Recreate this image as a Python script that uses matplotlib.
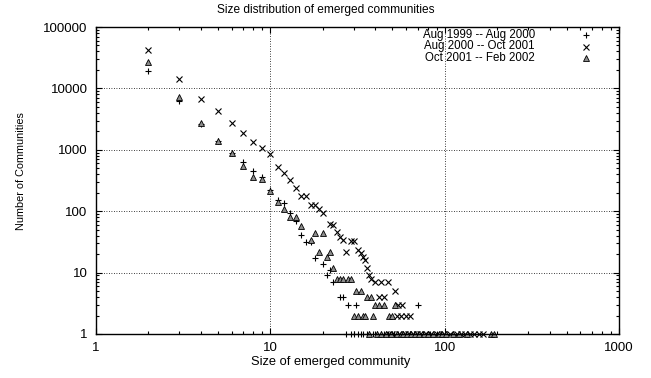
import matplotlib
matplotlib.use("Agg")
import matplotlib.pyplot as plt

plt.rcParams["font.family"] = ["Liberation Sans", "DejaVu Sans"]

# community sizes and how many communities of that size emerged, per period
sizes_99 = [2, 3, 4, 5, 6, 7, 8, 9, 10, 11, 12, 13, 14, 15, 16, 17, 18, 20, 21, 22, 23,
            25, 26, 28, 31, 70,
            27, 29, 30, 32, 33, 34, 36, 37, 39, 41, 43, 45, 47, 51, 54, 58, 63, 67, 75, 82, 95]
counts_99 = [19000, 6200, 2650, 1400, 900, 630, 450, 360, 225, 150, 137, 95, 70, 41, 32, 32, 17, 14, 9, 11, 7,
             4, 4, 3, 3, 3,
             1, 1, 1, 1, 1, 1, 1, 1, 1, 1, 1, 1, 1, 1, 1, 1, 1, 1, 1, 1, 1]

sizes_00 = [2, 3, 4, 5, 6, 7, 8, 9, 10, 11, 12, 13, 14, 15, 16, 17, 18, 19, 20,
            22, 23, 24, 25, 26, 27, 29, 30, 32, 33, 34, 35, 36, 37, 38,
            40, 43, 47, 42, 45, 52, 54, 57, 53, 56, 60, 63,
            48, 50, 55, 59, 62, 66, 69, 72, 77, 84, 90, 99, 108, 117, 124, 131, 139, 148, 157, 165]
counts_00 = [42000, 14000, 6700, 4300, 2700, 1850, 1350, 1050, 850, 530, 420, 320, 240, 180, 180, 126, 126, 109, 93,
             62, 60, 46, 38, 34, 22, 33, 33, 23, 21, 18, 16, 12, 9, 8,
             7, 7, 7, 4, 4, 5, 3, 3, 2, 2, 2, 2,
             1, 1, 1, 1, 1, 1, 1, 1, 1, 1, 1, 1, 1, 1, 1, 1, 1, 1, 1, 1]

sizes_01 = [2, 3, 4, 5, 6, 7, 8, 9, 10, 11, 12, 13, 14, 15,
            17, 18, 19, 20, 21, 22, 23, 24, 25, 26, 28, 29,
            31, 33, 36, 38, 40, 42, 45, 52, 30, 32, 34, 35, 39, 48, 50,
            37, 41, 43, 46, 49, 53, 56, 58, 61, 64, 68, 71, 76, 80, 86, 93, 97, 102, 112, 121, 135, 185, 192]
counts_01 = [27000, 7200, 2750, 1400, 890, 545, 360, 335, 213, 143, 108, 81, 81, 58,
             34, 44, 22, 44, 18, 22, 12, 8, 8, 8, 8, 8,
             5, 5, 4, 4, 3, 3, 3, 3, 2, 2, 2, 2, 2, 2, 2,
             1, 1, 1, 1, 1, 1, 1, 1, 1, 1, 1, 1, 1, 1, 1, 1, 1, 1, 1, 1, 1, 1, 1]

labels = ["Aug 1999 -- Aug 2000", "Aug 2000 -- Oct 2001", "Oct 2001 -- Feb 2002"]
decades_x = [1, 10, 100, 1000]
decades_y = [1, 10, 100, 1000, 10000, 100000]

W, H = 651, 378
fig = plt.figure(figsize=(W / 100, H / 100), dpi=100)
ax = fig.add_axes([96 / W, 44 / H, 523 / W, 307 / H])

styles = [
    dict(marker="+", color="black", ms=5, mew=0.8),
    dict(marker="x", color="black", ms=4.2, mew=0.8),
    dict(marker="^", mfc="#8c8c8c", mec="black", ms=4.2, mew=0.6),
]
for xs, ys, st in zip([sizes_99, sizes_00, sizes_01], [counts_99, counts_00, counts_01], styles):
    ax.plot(xs, ys, linestyle="none", clip_on=False, **st)

ax.set_xscale("log")
ax.set_yscale("log")
ax.set_xlim(1, 1000)
ax.set_ylim(1, 100000)
ax.set_xticks(decades_x, [str(v) for v in decades_x])
ax.set_yticks(decades_y, [str(v) for v in decades_y])

ax.grid(True, which="major", color="black", linestyle=(0, (1, 2)), linewidth=0.6)
ax.tick_params(which="both", direction="in", top=True, right=True, labelsize=9.5, width=0.8)
ax.tick_params(which="major", length=4, pad=6)
ax.tick_params(which="minor", length=2)
for s in ax.spines.values():
    s.set_linewidth(1.0)

# gnuplot-style titles, centred on the canvas
fig.text(0.5, 1 - 10 / H, "Size distribution of emerged communities", fontsize=8.6,
         ha="center", va="center")
fig.text(331 / W, 1 - 362 / H, "Size of emerged community", fontsize=9.3,
         ha="center", va="center")
fig.text(21 / W, 1 - 171 / H, "Number of Communities", fontsize=7.8,
         ha="center", va="center", rotation=90)

# key: right-aligned text with the sample point to its right
for i, (lab, st) in enumerate(zip(labels, styles)):
    y = 1 - (35 + 11.5 * i) / H
    fig.text(535 / W, y, lab, fontsize=8.3, ha="right", va="center")
    ax.plot([586 / W], [y], transform=fig.transFigure, clip_on=False, linestyle="none", **st)

fig.savefig("out.png", dpi=100)
